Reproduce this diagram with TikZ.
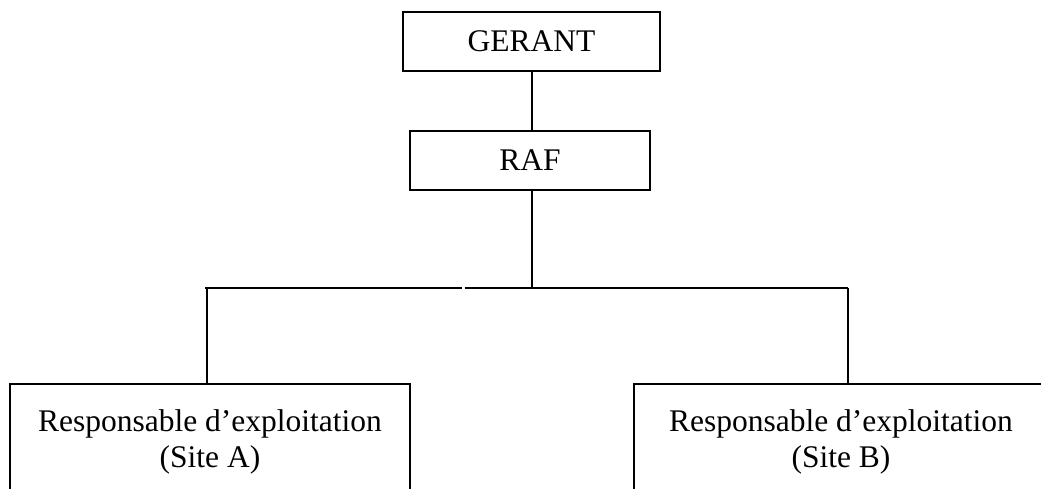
\documentclass[tikz,border=0pt]{standalone}
\usepackage{fontspec}
\setmainfont{Liberation Serif}
\begin{document}
\begin{tikzpicture}[x=1pt,y=-1pt,
  orgbox/.style={draw, line width=1.8pt, inner sep=0pt, align=center,
    font=\fontsize{31.5}{36.2}\selectfont},
  link/.style={line width=1.8pt}]
\useasboundingbox (0,0) rectangle (1041,488);
% top of the chart
\node[orgbox, minimum width=257pt, minimum height=59pt] (gerant) at (531.5,41.5) {GERANT};
\node[orgbox, minimum width=240pt, minimum height=59pt] (raf) at (530,160.5) {RAF};
% the two site managers (their lower part runs off the page)
\node[orgbox, minimum width=400pt, minimum height=116pt] (siteA) at (210,442)
  {Responsable d’exploitation\\(Site A)};
\node[orgbox, minimum width=414pt, minimum height=116pt] (siteB) at (841,442)
  {Responsable d’exploitation\\(Site B)};
% branching bar
\coordinate (barL) at (205,288);
\coordinate (gapL) at (461.5,288);
\coordinate (gapR) at (464.5,288);
\coordinate (barR) at (848,288);
\coordinate (dropA) at (207,288);
\draw[link] (gerant.south -| 532,0) -- (raf.north -| 532,0);
\draw[link] (raf.south -| 532,0) -- (barR -| 532,0);
\draw[link] (barL) -- (gapL);
\draw[link] (gapR) -- (barR);
\draw[link] (dropA) -- (siteA.north -| dropA);
\draw[link] (barR) -- (siteB.north -| barR);
\end{tikzpicture}
\end{document}
